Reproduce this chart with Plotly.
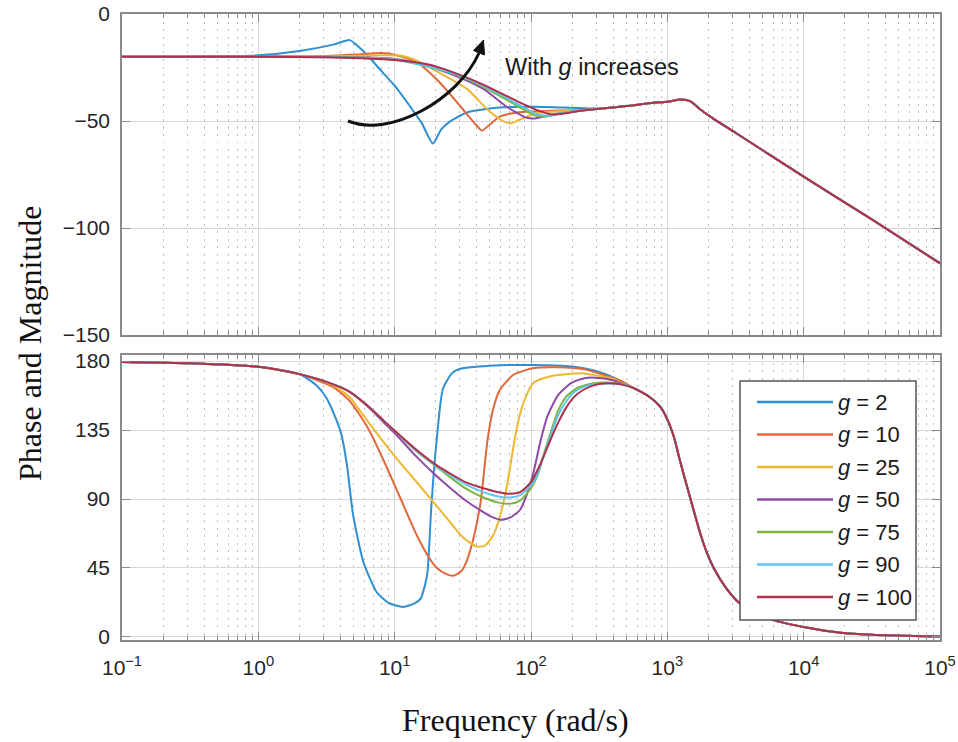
import plotly.graph_objects as go

# ---------------------------------------------------------------- data
g_values = [2, 10, 25, 50, 75, 90, 100]
colors = ["#2F8FD2", "#E0683A", "#EDB830", "#8E4AA6", "#7DB446", "#5CC6EE", "#B0304C"]

# Magnitude (dB) below ~300 rad/s, one pair of lists per gain g
w_mag_g2 = [0.1, 0.316, 1, 2, 3.55, 4.68, 5.25, 6.03, 8.22, 10, 12.9, 15.8, 19.05, 21.9, 25.1, 33.9, 58.9, 104.7, 199.5, 316.2]
mag_g2 = [-20.0, -19.9, -19.3, -17.3, -14.3, -12.2, -14.5, -18.0, -27.5, -33.5, -43.0, -51.0, -60.5, -54.0, -50.5, -46.0, -43.7, -43.3, -43.8, -44.2]

w_mag_g10 = [0.1, 3.16, 5.62, 7.94, 10, 14.5, 21.4, 30.2, 39.8, 43.7, 50.1, 58.9, 79.4, 125.9, 199.5, 316.2]
mag_g10 = [-20.0, -19.7, -18.8, -18.2, -19.0, -22.5, -32.0, -43.0, -52.0, -54.5, -51.5, -48.0, -46.0, -45.3, -45.0, -44.3]

w_mag_g25 = [0.1, 3.16, 7.94, 11.2, 14.1, 19.05, 33.9, 47.9, 63.1, 72.4, 83.2, 107.2, 158.5, 223.9, 316.2]
mag_g25 = [-20.0, -19.8, -19.3, -19.5, -21.5, -25.8, -35.0, -44.6, -50.2, -51.0, -49.3, -46.5, -45.5, -45.0, -44.3]

w_mag_g50 = [0.1, 3.16, 10, 15.8, 25.7, 44.7, 67.6, 93.3, 107.2, 125.9, 158.5, 223.9, 316.2]
mag_g50 = [-20.0, -20.0, -21.0, -23.5, -28.0, -35.0, -43.7, -48.5, -48.8, -47.8, -46.5, -45.3, -44.3]

w_mag_g75 = [0.1, 3.16, 10, 25.7, 44.7, 79.4, 107.2, 125.9, 147.9, 199.5, 316.2]
mag_g75 = [-20.0, -20.1, -21.3, -27.5, -34.0, -43.0, -47.5, -48.0, -47.0, -45.7, -44.3]

w_mag_g90 = [0.1, 3.16, 10, 25.7, 44.7, 79.4, 112.2, 134.9, 158.5, 199.5, 316.2]
mag_g90 = [-20.0, -20.2, -21.4, -27.2, -33.5, -42.0, -47.0, -47.5, -46.8, -45.6, -44.3]

w_mag_g100 = [0.1, 1, 3.16, 6.31, 10, 17.4, 25.7, 44.7, 79.4, 117.5, 144.5, 177.8, 223.9, 316.2]
mag_g100 = [-20.0, -20.0, -20.2, -20.8, -21.5, -23.5, -26.8, -33.0, -40.8, -45.5, -47.0, -46.4, -45.3, -44.3]

# Magnitude (dB) above ~500 rad/s, identical for every g
w_mag_tail = [501.2, 794.3, 1000, 1259, 1479, 1778, 2188, 3162, 10000, 31623, 100000]
mag_tail = [-43.0, -41.5, -41.0, -40.0, -40.8, -45.0, -49.0, -55.5, -76.0, -96.0, -116.5]

# Phase (deg) below ~450 rad/s, per gain g
w_ph_g2 = [0.1, 0.316, 1, 2, 2.69, 3.16, 3.8, 4.07, 4.47, 4.95, 5.89, 7.41, 9.12, 11.5, 14.1, 15.5, 16.6, 17.4, 18.6, 20.4, 22.6, 26.3, 30.2, 50.1, 100, 199.5, 316.2, 446.7]
ph_g2 = [179.5, 178.6, 176.3, 171.5, 164, 156, 140, 132, 112, 80, 49, 29, 22, 19.6, 22, 25, 33, 42, 86, 130, 162, 172, 175, 177, 177.5, 176.5, 173, 167.5]

w_ph_g10 = [0.1, 0.316, 1, 2, 3.55, 4.68, 6.31, 8.32, 10.96, 14.5, 17.8, 20.4, 24, 26.9, 30.9, 33.9, 38, 42.7, 47.9, 52.5, 58.9, 74.1, 104.7, 158.5, 251.2, 398.1, 446.7]
ph_g10 = [179.5, 178.6, 176.3, 171.5, 163, 154, 137, 115, 91, 66.5, 52, 45, 41, 40, 43, 50, 65, 88, 128, 148, 161, 171, 175.5, 176, 174.5, 169, 167.5]

w_ph_g25 = [0.1, 0.316, 1, 2, 3.39, 4.68, 5.62, 8.32, 10, 14.5, 22.9, 31.6, 39.8, 45.7, 52.5, 58.9, 66.1, 72.4, 79.4, 89.1, 104.7, 138, 239.9, 398.1, 446.7]
ph_g25 = [179.5, 178.6, 176.3, 171.5, 165, 156.5, 147, 127, 118, 101, 80, 65, 59, 59.5, 66, 78, 97, 118, 138, 154, 166, 170, 172, 168.5, 166.5]

w_ph_g50 = [0.1, 0.316, 1, 2, 3.39, 4.68, 6.31, 8.32, 10, 14.5, 20, 25.7, 33.1, 44.7, 52.5, 60.3, 70.8, 83.2, 93.3, 104.7, 117.5, 131.8, 158.5, 199.5, 251.2, 316.2, 398.1, 446.7]
ph_g50 = [179.5, 178.6, 176.3, 171.5, 165.5, 160, 150.5, 140, 133, 117.5, 105.5, 97, 89, 81.5, 78, 76.5, 78, 83, 93, 108, 128, 144, 158, 166, 169, 169, 167.5, 166]

w_ph_g75 = [0.1, 0.316, 1, 2, 3.39, 4.68, 6.31, 8.32, 10, 14.5, 20, 25.7, 33.1, 44.7, 58.9, 70.8, 83.2, 100, 112.2, 125.9, 141.3, 158.5, 182, 218.8, 275.4, 363.1, 446.7]
ph_g75 = [179.5, 178.6, 176.3, 171.5, 165.5, 160, 151, 141, 134.5, 121, 111.5, 104, 97, 91, 87.5, 87, 89, 97, 106, 121, 135, 148, 157, 162.5, 165.3, 166, 165.2]

w_ph_g90 = [0.1, 0.316, 1, 2, 3.39, 4.68, 6.31, 8.32, 10, 14.5, 20, 25.7, 33.1, 44.7, 58.9, 70.8, 83.2, 100, 112.2, 125.9, 138, 158.5, 182, 208.9, 251.2, 316.2, 446.7]
ph_g90 = [179.5, 178.6, 176.3, 171.5, 165.5, 160, 151, 141, 134.5, 121.5, 112, 105.5, 99.5, 94.5, 91.5, 91, 92.5, 99, 107, 120, 130, 145, 154, 160, 163.5, 165.3, 165]

w_ph_g100 = [0.1, 0.316, 1, 2, 3.39, 4.68, 6.31, 8.32, 10, 14.5, 20, 25.7, 33.1, 44.7, 58.9, 70.8, 83.2, 100, 117.5, 138, 158.5, 182, 208.9, 239.9, 295.1, 363.1, 446.7]
ph_g100 = [179.5, 178.6, 176.3, 171.5, 165.5, 160, 151, 141, 134.5, 122, 112.5, 106.5, 101, 97, 94.3, 93.5, 94.5, 101, 113, 128, 140, 150, 157, 161, 164.5, 165.6, 165]

# Phase (deg) above ~550 rad/s, identical for every g
w_ph_tail = [562.3, 741.3, 891, 1000, 1122, 1230, 1479, 1738, 1950, 2188, 2692, 3388, 6026, 10715, 18621, 31623, 100000]
ph_tail = [162.5, 156.6, 150, 142, 130, 116, 90, 68, 55, 45, 32, 22, 11, 6, 2.8, 1.5, 0.3]

mag_w = [w_mag_g2, w_mag_g10, w_mag_g25, w_mag_g50, w_mag_g75, w_mag_g90, w_mag_g100]
mag_v = [mag_g2, mag_g10, mag_g25, mag_g50, mag_g75, mag_g90, mag_g100]
ph_w = [w_ph_g2, w_ph_g10, w_ph_g25, w_ph_g50, w_ph_g75, w_ph_g90, w_ph_g100]
ph_v = [ph_g2, ph_g10, ph_g25, ph_g50, ph_g75, ph_g90, ph_g100]

x_tickvals = [0.1, 1, 10, 100, 1000, 10000, 100000]
x_ticktext = ["10<sup>−1</sup>", "10<sup>0</sup>", "10<sup>1</sup>", "10<sup>2</sup>",
              "10<sup>3</sup>", "10<sup>4</sup>", "10<sup>5</sup>"]
mag_ticks = [-150, -100, -50, 0]
ph_ticks = [0, 45, 90, 135, 180]

# ---------------------------------------------------------------- figure
W, H = 958, 742
ML, MR, MT, MB = 122, 18, 14, 102
PW, PH = W - ML - MR, H - MT - MB


def px(x):
    return (x - ML) / PW


def py(y):
    return (H - MB - y) / PH


fig = go.Figure()
for i, g in enumerate(g_values):
    fig.add_trace(go.Scatter(
        x=mag_w[i] + w_mag_tail, y=mag_v[i] + mag_tail,
        mode="lines", line=dict(color=colors[i], width=2, shape="spline", smoothing=0.6),
        xaxis="x", yaxis="y", name=f"g = {g}", showlegend=False, hoverinfo="skip"))
for i, g in enumerate(g_values):
    fig.add_trace(go.Scatter(
        x=ph_w[i] + w_ph_tail, y=ph_v[i] + ph_tail,
        mode="lines", line=dict(color=colors[i], width=2, shape="spline", smoothing=0.6),
        xaxis="x2", yaxis="y2", name=f"g = {g}", showlegend=False, hoverinfo="skip"))

minor_vals = [k * 10.0 ** e for e in range(-1, 5) for k in range(2, 10)]
tick_font = dict(family="Liberation Sans, Arial, sans-serif", size=21, color="#262626")
frame = "#8a8a8a"

common_x = dict(
    type="log", range=[-1, 5], tickmode="array", tickvals=x_tickvals, automargin=False,
    showline=True, linecolor=frame, linewidth=1.5, mirror="ticks",
    ticks="inside", ticklen=8, tickcolor=frame, tickwidth=1,
    showgrid=True, gridcolor="#d8d8d8", gridwidth=1,
    zeroline=False,
    minor=dict(tickmode="array", tickvals=minor_vals, ticks="inside", ticklen=4,
               tickcolor=frame, showgrid=True, gridcolor="#bdbdbd", griddash="2px,5.5px", gridwidth=1),
    tickfont=tick_font,
)
common_y = dict(
    showline=True, linecolor=frame, linewidth=1.5, mirror="ticks", automargin=False,
    ticks="inside", ticklen=8, tickcolor=frame, tickwidth=1,
    showgrid=True, gridcolor="#d8d8d8", gridwidth=1, zeroline=False,
    tickfont=tick_font, ticklabelstandoff=6,
)

top_dom = [py(335), 1.0]
bot_dom = [0.0, py(355)]

fig.update_layout(
    width=W, height=H,
    margin=dict(l=ML, r=MR, t=MT, b=MB),
    paper_bgcolor="white", plot_bgcolor="white",
    showlegend=False,
    xaxis=dict(common_x, anchor="y", domain=[0, 1], showticklabels=False),
    xaxis2=dict(common_x, anchor="y2", domain=[0, 1], matches="x",
                ticktext=x_ticktext, ticklabelstandoff=8),
    yaxis=dict(common_y, domain=top_dom, range=[-150, 0], tickmode="array", tickvals=mag_ticks),
    yaxis2=dict(common_y, domain=bot_dom, range=[-2, 184], tickmode="array", tickvals=ph_ticks),
)

# axis titles
title_font = dict(family="Liberation Serif, Times New Roman, serif", size=32, color="#111111")
fig.add_annotation(text="Phase and Magnitude", xref="paper", yref="paper",
                   x=px(30), y=py(343), textangle=-90, showarrow=False,
                   xanchor="center", yanchor="middle", font=title_font)
fig.add_annotation(text="Frequency (rad/s)", xref="paper", yref="paper",
                   x=px(515), y=py(720), showarrow=False,
                   xanchor="center", yanchor="middle", font=title_font)

# curved "g increases" arrow on the magnitude panel
p0, c1, c2, p1 = (348, 121), (390, 138), (458, 100), (479, 53)
path = "M {} {} C {} {}, {} {}, {} {}".format(
    px(p0[0]), py(p0[1]), px(c1[0]), py(c1[1]), px(c2[0]), py(c2[1]), px(p1[0]), py(p1[1]))
fig.add_shape(type="path", path=path, xref="paper", yref="paper",
              line=dict(color="#111111", width=3))
tip, b1, b2 = (483.5, 40), (484.5, 55), (473.5, 50.5)
head = "M {} {} L {} {} L {} {} Z".format(px(tip[0]), py(tip[1]), px(b1[0]), py(b1[1]), px(b2[0]), py(b2[1]))
fig.add_shape(type="path", path=head, xref="paper", yref="paper",
              line=dict(color="#111111", width=1), fillcolor="#111111")
fig.add_annotation(text="With <i>g</i> increases", xref="paper", yref="paper",
                   x=px(503), y=py(67), showarrow=False, xanchor="left", yanchor="middle",
                   font=dict(family="Liberation Sans, Arial, sans-serif", size=23.5, color="#1a1a1a"))

# legend box for the phase panel
fig.add_shape(type="rect", xref="paper", yref="paper",
              x0=px(740), x1=px(916), y0=py(620), y1=py(381),
              line=dict(color="#555555", width=1.5), fillcolor="white", layer="above")
for i, g in enumerate(g_values):
    yy = 402 + i * 32.5
    fig.add_shape(type="line", xref="paper", yref="paper",
                  x0=px(757), x1=px(833), y0=py(yy), y1=py(yy),
                  line=dict(color=colors[i], width=2.5), layer="above")
    fig.add_annotation(text=f"<i>g</i> = {g}", xref="paper", yref="paper",
                       x=px(836), y=py(yy), showarrow=False, xanchor="left", yanchor="middle",
                       font=dict(family="Liberation Sans, Arial, sans-serif", size=22, color="#1a1a1a"))

fig.write_html("out.html")
